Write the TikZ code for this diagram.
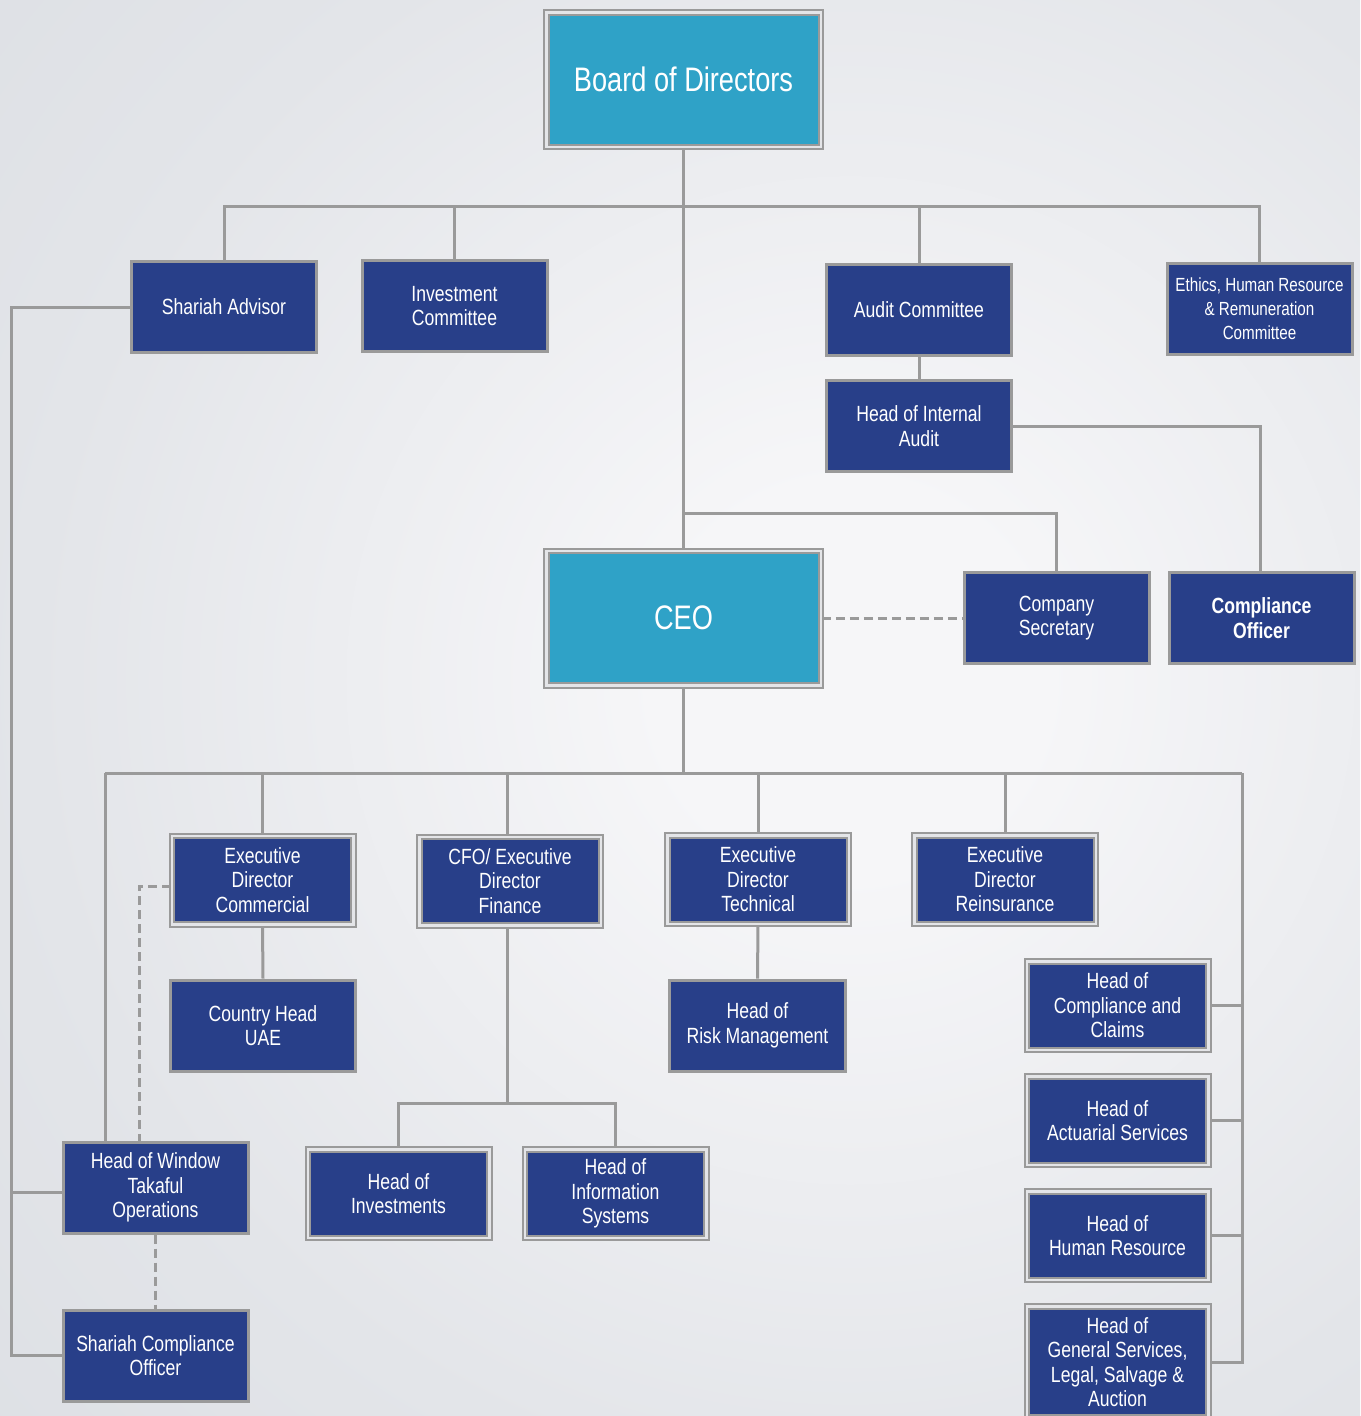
\documentclass[tikz,border=0pt]{standalone}
\usepackage{fontspec}
\setmainfont{Liberation Sans}[FakeStretch=0.8]
\pgfdeclarelayer{bg}
\pgfdeclarelayer{edges}
\pgfsetlayers{bg,edges,main}
\definecolor{navy}{HTML}{283F89}
\definecolor{cyanbox}{HTML}{2FA2C7}
\definecolor{bgray}{HTML}{9A9A9A}
\definecolor{gapc}{HTML}{E4E5E8}
\definecolor{bgc}{HTML}{CED2D9}
\definecolor{midc}{HTML}{E3E5E9}
\definecolor{glowc}{HTML}{F6F6F8}
\pgfdeclareradialshading{glow}{\pgfpoint{0bp}{0bp}}{color(0bp)=(glowc); color(4bp)=(glowc); color(17bp)=(midc); color(44bp)=(bgc); color(100bp)=(bgc)}
\tikzset{
  base/.style={rectangle, text=white, align=center, inner sep=0pt, font=\fontsize{22}{24.5}\selectfont},
  sbox/.style={base, fill=navy, draw=bgray, line width=3pt, minimum width=185pt, minimum height=91pt},
  dbox/.style={base, fill=navy, draw=bgray, line width=2pt, double=gapc, double distance=2.5pt, minimum width=181.5pt, minimum height=88.5pt},
  cbox/.style={base, fill=cyanbox, draw=bgray, line width=2pt, double=gapc, double distance=2.5pt, minimum width=274.5pt, minimum height=134.5pt, font=\fontsize{34}{38}\selectfont},
  conn/.style={draw=bgray, line width=3pt},
  dconn/.style={conn, dash pattern=on 9pt off 5pt}
}
\begin{document}
\begin{tikzpicture}[x=1pt,y=-1pt]
\useasboundingbox (0,0) rectangle (1360,1416);
\begin{pgfonlayer}{bg}
  \begin{scope}
    \clip (0,0) rectangle (1360,1416);
    \shade[shading=glow] (850-1200,680-1200) rectangle (850+1200,680+1200);
  \end{scope}
\end{pgfonlayer}

% nodes
\node[cbox] (board) at (683.5,79.5) {Board of Directors};
\node[cbox] (ceo) at (683.5,618) {CEO};
\node[sbox] (shariah) at (224,307) {Shariah Advisor};
\node[sbox] (invc) at (454.5,306) {Investment\\Committee};
\node[sbox] (audit) at (919,310) {Audit Committee};
\node[sbox, font=\fontsize{19}{24}\selectfont] (ethics) at (1259.5,309) {Ethics, Human Resource\\\& Remuneration\\Committee};
\node[sbox] (hia) at (919,426) {Head of Internal\\Audit};
\node[sbox] (cosec) at (1056.5,618) {Company\\Secretary};
\node[sbox, font=\fontsize{22}{24.5}\selectfont\bfseries] (compo) at (1261.5,618) {Compliance\\Officer};
\node[dbox] (edc) at (262.5,880) {Executive\\Director\\Commercial};
\node[dbox] (cfo) at (510,881) {CFO/ Executive\\Director\\Finance};
\node[dbox] (edt) at (758,879.5) {Executive\\Director\\Technical};
\node[dbox] (edr) at (1005,879.5) {Executive\\Director\\Reinsurance};
\node[sbox] (chu) at (263,1025.5) {Country Head\\UAE};
\node[sbox, minimum width=176pt] (hrm) at (757.5,1025.5) {Head of\\Risk Management};
\node[dbox] (hcc) at (1117.5,1005.5) {Head of\\Compliance and\\Claims};
\node[dbox] (has) at (1117.5,1120.5) {Head of\\Actuarial Services};
\node[dbox] (hhr) at (1117.5,1235.5) {Head of\\Human Resource};
\node[dbox, minimum height=111pt] (hgs) at (1117.5,1362) {Head of\\General Services,\\Legal, Salvage \&\\Auction};
\node[dbox] (hinv) at (398.5,1193.5) {Head of\\Investments};
\node[dbox] (his) at (615.5,1193.5) {Head of\\Information\\Systems};
\node[sbox] (hwt) at (155.5,1187.5) {Head of Window\\Takaful\\Operations};
\node[sbox] (sco) at (155.5,1355.5) {Shariah Compliance\\Officer};

% connectors
\coordinate (j1) at (683.5,206);
\coordinate (j2) at (683.5,513);
\coordinate (j3) at (683.5,773);
\coordinate (j4) at (507,1103);
\coordinate (lx) at (105,773);
\coordinate (rx) at (1242,773);
\coordinate (cfox) at (507,0);
\coordinate (dx) at (139,0);
\coordinate (xl) at (11,0);
\coordinate (cox) at (1260,0);
\begin{pgfonlayer}{edges}
  \draw[conn] (board.south) -- (ceo.north);
  \draw[conn] (shariah.north) |- (j1) -| (ethics.north);
  \draw[conn] (invc.north) -- (invc.north |- j1);
  \draw[conn] (audit.north) -- (audit.north |- j1);
  \draw[conn] (audit.south) -- (hia.north);
  \draw[conn] (hia.east) -| (cox |- compo.north);
  \draw[conn] (j2) -| (cosec.north);
  \draw[dconn] (ceo.east) -- (cosec.west);
  \draw[conn] (ceo.south) -- (j3);
  \draw[conn] (lx) -- (rx);
  \draw[conn] (lx) -- (lx |- hwt.north);
  \draw[conn] (rx) |- (hgs.east);
  \draw[conn] (hcc.east) -- (hcc.east -| rx);
  \draw[conn] (has.east) -- (has.east -| rx);
  \draw[conn] (hhr.east) -- (hhr.east -| rx);
  \draw[conn] (edc.north) -- (edc.north |- j3);
  \draw[conn] (cfox |- cfo.north) -- (cfox |- j3);
  \draw[conn] (edt.north) -- (edt.north |- j3);
  \draw[conn] (edr.north) -- (edr.north |- j3);
  \draw[conn] (edc.south) -- (chu.north);
  \draw[conn] (edt.south) -- (hrm.north);
  \draw[conn] (cfox |- cfo.south) -- (j4);
  \draw[conn] (hinv.north) |- (j4) -| (his.north);
  \draw[dconn] ([yshift=-6pt]edc.west) -| (dx |- hwt.north);
  \draw[dconn] (hwt.south) -- (sco.north);
  \draw[conn] (shariah.west) -| (xl |- sco.west) -- (sco.west);
  \draw[conn] ([yshift=-5pt]hwt.west) -- ([yshift=-5pt]hwt.west -| xl);
\end{pgfonlayer}
\end{tikzpicture}
\end{document}
